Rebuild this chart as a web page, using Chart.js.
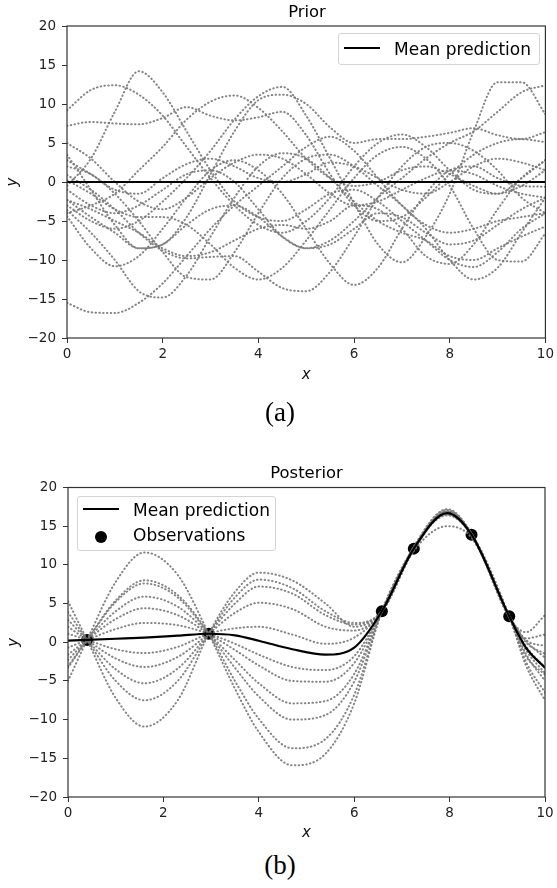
<!DOCTYPE html>
<html>
<head>
<meta charset="utf-8">
<script src="https://cdn.jsdelivr.net/npm/chart.js@4.4.0/dist/chart.umd.min.js"></script>
<style>
body { margin: 0; background: #fff; width: 557px; height: 888px; position: relative; overflow: hidden; font-family: "DejaVu Sans", sans-serif; color: #000; }
.wrap { position: absolute; left: 0; width: 557px; }
.txt { position: absolute; white-space: nowrap; line-height: 1; z-index: 2; }
.title { font-size: 16.4px; transform: translateX(-50%); }
.cap { font-family: "Liberation Serif", "Times New Roman", serif; font-size: 27px; transform: translateX(-50%); }
.leg { position: absolute; border: 1px solid #d4d4d4; border-radius: 3px; background: rgba(255,255,255,0.85); z-index: 1; box-sizing: border-box; }
.legtxt { font-size: 17px; }
.sw { position: absolute; background: #000; height: 2.2px; z-index: 2; }
.dot { position: absolute; width: 12px; height: 12px; border-radius: 50%; background: #000; z-index: 2; }
</style>
</head>
<body>

<div class="txt title" style="left:307px; top:4.4px;">Prior</div>
<div class="wrap" style="top:0; height:395px;"><canvas id="priorChart" width="557" height="395"></canvas></div>
<div class="leg" style="left:338px; top:33px; width:202px; height:32px;"></div>
<div class="sw" style="left:344px; top:47.2px; width:36px;"></div>
<div class="txt legtxt" style="left:394px; top:40.6px;">Mean prediction</div>
<div class="txt cap" style="left:280px; top:399px;">(a)</div>

<div class="txt title" style="left:306.5px; top:465.4px;">Posterior</div>
<div class="wrap" style="top:400px; height:450px;"><canvas id="postChart" width="557" height="450"></canvas></div>
<div class="leg" style="left:77px; top:496px; width:199px; height:55px;"></div>
<div class="sw" style="left:83px; top:508.2px; width:36px;"></div>
<div class="txt legtxt" style="left:133px; top:501.6px;">Mean prediction</div>
<div class="dot" style="left:94.7px; top:530.7px;"></div>
<div class="txt legtxt" style="left:133px; top:527.3px;">Observations</div>
<div class="txt cap" style="left:280px; top:852.4px;">(b)</div>

<script>
// prior: sample curves on a 0.5 grid
const priorX = [0, 0.5, 1, 1.5, 2, 2.5, 3, 3.5, 4, 4.5, 5, 5.5, 6, 6.5, 7, 7.5, 8, 8.5, 9, 9.5, 10];
const priorMean = [0, 0, 0, 0, 0, 0, 0, 0, 0, 0, 0, 0, 0, 0, 0, 0, 0, 0, 0, 0, 0];
const prior1 = [9.2, 11.8, 12.4, 11.2, 8.5, 4.5, 0.5, -3.0, -5.5, -6.5, -5.0, -2.0, 2.0, 5.0, 6.1, 4.5, 1.5, -1.0, -1.5, 0.5, 2.8];
const prior2 = [-0.5, 3.0, 9.0, 14.2, 11.5, 6.5, 1.5, -2.5, -4.5, -5.0, -3.5, -1.5, -1.0, -2.5, -5.0, -7.5, -10.0, -10.9, -9.0, -6.0, -4.0];
const prior3 = [7.2, 7.7, 7.5, 7.4, 8.2, 9.6, 8.5, 7.9, 8.3, 9.0, 6.0, 1.0, -3.0, -5.0, -4.5, -2.0, 1.0, 3.5, 5.0, 5.5, 5.1];
const prior4 = [-4.0, -3.0, -1.5, 1.5, 4.5, 8.0, 10.3, 11.1, 9.5, 6.5, 3.0, 0.5, -0.5, 0.0, 1.5, 2.0, 1.0, -0.5, -1.5, -0.5, 1.5];
const prior5 = [-3.0, -5.0, -6.0, -5.0, -2.5, 0.5, 4.0, 8.0, 11.0, 12.2, 8.5, 3.0, -2.7, -8.0, -10.3, -7.0, -1.5, 6.5, 12.8, 12.8, 8.7];
const prior6 = [-2.3, -4.5, -6.5, -8.5, -8.0, -4.5, 1.0, 6.5, 10.5, 11.2, 10.0, 7.0, 5.0, 5.5, 5.5, 5.8, 6.3, 6.9, 6.0, 5.5, 6.4];
const prior7 = [-15.5, -16.7, -16.8, -15.5, -13.0, -9.5, -6.0, -3.0, -0.5, 2.0, 4.5, 5.8, 4.0, 0.5, -3.0, -5.5, -6.5, -6.0, -5.0, -4.5, -4.0];
const prior8 = [-3.6, -6.5, -10.0, -14.0, -14.8, -12.0, -7.0, -2.0, 2.0, 3.7, 3.0, 0.5, -2.5, -5.0, -6.5, -7.5, -9.5, -10.0, -8.5, -7.0, -5.7];
const prior9 = [-4.4, -8.5, -10.8, -9.5, -6.0, -2.0, 1.5, 2.8, 1.5, -1.5, -6.0, -10.5, -13.2, -11.0, -6.0, -1.5, 1.5, 2.0, 0.5, -0.5, -0.6];
const prior10 = [2.0, 1.0, -1.5, -5.0, -9.0, -12.2, -12.5, -9.0, -4.0, 0.5, 3.0, 3.5, 2.0, -0.5, -3.0, -6.0, -10.0, -12.5, -11.0, -6.5, -2.0];
const prior11 = [0.9, -1.0, -3.5, -6.5, -8.8, -9.8, -9.6, -9.5, -11.5, -13.6, -14.0, -11.5, -7.0, -2.0, 2.0, 4.5, 5.0, 4.0, 1.5, -2.0, -4.0];
const prior12 = [0.25, -1.5, -3.5, -4.5, -4.5, -5.5, -8.0, -11.0, -12.5, -11.0, -7.5, -3.5, 0.5, 3.5, 4.5, 3.0, -0.5, -6.0, -10.0, -10.2, -6.6];
const prior13 = [2.8, 1.0, -1.0, -1.5, 0.5, 2.3, 3.0, 2.0, 0.5, 0.0, 1.0, 2.5, 2.0, 0.5, -1.0, -1.5, 0.0, 2.0, 3.0, 2.5, 1.5];
const prior14 = [3.5, -1.0, -5.5, -8.5, -8.0, -5.5, -3.5, -3.0, -4.5, -7.0, -8.5, -8.0, -6.0, -4.0, -4.5, -6.5, -8.0, -7.5, -5.5, -3.5, -2.0];
const prior15 = [-1.0, -3.0, -4.0, -3.0, -1.0, 1.0, 1.5, 0.0, -3.5, -7.0, -8.5, -7.5, -5.0, -2.0, 0.5, 3.0, 5.0, 6.5, 9.0, 11.5, 12.4];
const prior16 = [-2.3, -3.5, -5.0, -6.5, -8.5, -9.5, -9.0, -7.5, -6.0, -5.5, -6.0, -5.0, -3.0, -3.5, -6.0, -9.5, -10.5, -8.0, -3.5, 0.5, 2.8];
const prior17 = [5.0, 3.0, 0.0, -2.5, -3.5, -2.0, 0.5, 2.5, 3.5, 3.0, 1.0, -1.5, -3.0, -2.5, -1.0, 0.5, 1.5, 1.0, -0.5, -1.5, -2.0];
const priorSamples = [prior1, prior2, prior3, prior4, prior5, prior6, prior7, prior8, prior9,
	prior10, prior11, prior12, prior13, prior14, prior15, prior16, prior17];

// posterior: grid includes the observation positions
const postX = [0, 0.4, 1.0, 1.6, 2.3, 2.95, 3.5, 4.0, 4.7, 5.4, 6.0, 6.58, 7.25, 7.95, 8.46, 9.25, 9.6, 10];
const postMean = [0.2, 0.3, 0.45, 0.6, 0.85, 1.1, 0.9, 0.2, -0.9, -1.6, -0.7, 4.0, 12.1, 16.7, 13.9, 3.35, -0.7, -3.3];
const post1 = [-5.0, 0.3, 7.8, 11.6, 8.7, 1.1, -6.0, -11.6, -15.9, -14.4, -7.9, 4.0, 12.0, 16.9, 13.9, 3.3, -1.5, -5.0];
const post2 = [-3.3, 0.3, 5.4, 8.0, 6.1, 1.1, -5.0, -9.9, -13.7, -12.5, -6.8, 4.0, 12.3, 17.1, 14.0, 3.4, 0.2, -2.0];
const post3 = [-3.1, 0.3, 5.2, 7.6, 5.8, 1.1, -3.3, -7.0, -10.0, -9.4, -5.1, 4.0, 11.8, 15.0, 13.5, 3.5, 0.5, 1.0];
const post4 = [-2.3, 0.3, 4.0, 5.9, 4.6, 1.1, -2.3, -5.3, -7.9, -7.6, -4.1, 4.0, 12.2, 16.5, 13.8, 3.2, -1.8, -4.2];
const post5 = [-1.6, 0.3, 3.0, 4.4, 3.5, 1.1, -1.0, -3.0, -5.0, -5.1, -2.7, 4.0, 12.0, 16.8, 13.9, 3.3, -2.5, -6.5];
const post6 = [-0.7, 0.3, 1.7, 2.5, 2.2, 1.1, -0.2, -1.6, -3.2, -3.6, -1.8, 4.0, 12.1, 16.6, 13.9, 3.3, -0.5, -3.3];
const post7 = [1.1, 0.3, -0.9, -1.4, -0.6, 1.1, 1.8, 2.0, 1.0, -0.2, 0.6, 4.0, 12.1, 16.9, 13.9, 3.3, 0.3, -0.5];
const post8 = [2.0, 0.3, -2.1, -3.2, -1.9, 1.1, 3.8, 5.1, 4.3, 2.0, 1.5, 4.0, 12.2, 16.4, 13.8, 3.4, 0.0, -1.5];
const post9 = [2.9, 0.3, -3.5, -5.3, -3.4, 1.1, 5.0, 7.2, 6.3, 3.5, 2.3, 4.0, 11.9, 16.7, 14.0, 3.2, 1.3, 3.5];
const post10 = [3.9, 0.3, -5.0, -7.5, -5.0, 1.1, 5.8, 8.1, 7.0, 4.0, 2.5, 4.0, 12.4, 17.2, 14.1, 3.4, -3.0, -7.5];
const post11 = [5.3, 0.3, -7.2, -10.9, -7.5, 1.1, 6.5, 9.0, 8.0, 5.0, 2.0, 4.0, 12.0, 16.9, 13.8, 3.3, -1.0, -4.0];
const postSamples = [post1, post2, post3, post4, post5, post6, post7, post8, post9, post10, post11];

const obsX = [0.4, 2.95, 6.58, 7.25, 8.46, 9.25];
const obsY = [0.3, 1.1, 4.0, 12.1, 13.9, 3.35];

const xTicks = [0, 2, 4, 6, 8, 10];
const yTicks = [-20, -15, -10, -5, 0, 5, 10, 15, 20];

function pts(xs, ys) {
	return xs.map((x, i) => ({ x: x, y: ys[i] }));
}

function dotted(xs, ys) {
	return {
		data: pts(xs, ys),
		borderColor: "rgba(120, 120, 120, 0.9)",
		borderWidth: 2,
		borderDash: [0.5, 3.3],
		borderCapStyle: "round",
		pointRadius: 0,
		cubicInterpolationMode: "monotone",
		fill: false
	};
}

function fmt(v) {
	return v < 0 ? "\u2212" + Math.abs(v) : "" + v;
}

const frame = {
	id: "frame",
	afterDatasetsDraw(chart) {
		const a = chart.chartArea;
		const ctx = chart.ctx;
		ctx.save();
		ctx.strokeStyle = "#333";
		ctx.lineWidth = 1.2;
		ctx.strokeRect(a.left, a.top, a.right - a.left, a.bottom - a.top);
		ctx.restore();
	}
};

function makeOptions(o) {
	return {
		responsive: false,
		animation: false,
		layout: { padding: { top: o.top, right: o.right, left: 0, bottom: 0 } },
		plugins: { legend: { display: false }, title: { display: false }, tooltip: { enabled: false } },
		scales: {
			x: {
				type: "linear",
				min: 0,
				max: 10,
				afterBuildTicks(s) { s.ticks = xTicks.map(v => ({ value: v })); },
				afterFit(s) { s.height = o.xh; },
				border: { display: false },
				grid: { drawOnChartArea: false, drawTicks: true, tickLength: 5, color: "#333" },
				ticks: { padding: 3, color: "#222", font: { family: "DejaVu Sans", size: 13.5 }, callback: fmt, maxRotation: 0 },
				title: { display: true, text: "x", color: "#111", padding: { top: 0, bottom: o.xtp }, font: { family: "DejaVu Sans", size: 15, style: "italic" } }
			},
			y: {
				min: -20,
				max: 20,
				afterBuildTicks(s) { s.ticks = yTicks.map(v => ({ value: v })); },
				afterFit(s) { s.width = o.yw; },
				border: { display: false },
				grid: { drawOnChartArea: false, drawTicks: true, tickLength: 5, color: "#333" },
				ticks: { padding: 6, color: "#222", font: { family: "DejaVu Sans", size: 13.5 }, callback: fmt },
				title: { display: true, text: "y", color: "#111", padding: { top: o.ytp, bottom: 0 }, font: { family: "DejaVu Sans", size: 15, style: "italic" } }
			}
		}
	};
}

new Chart(document.getElementById("priorChart"), {
	type: "line",
	data: {
		datasets: [{
			label: "Mean prediction",
			data: pts(priorX, priorMean),
			borderColor: "#000",
			borderWidth: 2.2,
			pointRadius: 0
		}].concat(priorSamples.map(s => dotted(priorX, s)))
	},
	options: makeOptions({ top: 26, right: 10, xh: 57, yw: 67, xtp: 11, ytp: 4 }),
	plugins: [frame]
});

new Chart(document.getElementById("postChart"), {
	type: "line",
	data: {
		datasets: [{
			label: "Mean prediction",
			data: pts(postX, postMean),
			borderColor: "#000",
			borderWidth: 2.2,
			pointRadius: 0,
			cubicInterpolationMode: "monotone"
		}].concat(postSamples.map(s => dotted(postX, s))).concat([{
			label: "Observations",
			data: pts(obsX, obsY),
			showLine: false,
			pointRadius: 6,
			pointBackgroundColor: "#000",
			pointBorderColor: "#000",
			pointBorderWidth: 0
		}])
	},
	options: makeOptions({ top: 87.5, right: 12, xh: 53, yw: 68, xtp: 8, ytp: 5 }),
	plugins: [frame]
});
</script>
</body>
</html>
